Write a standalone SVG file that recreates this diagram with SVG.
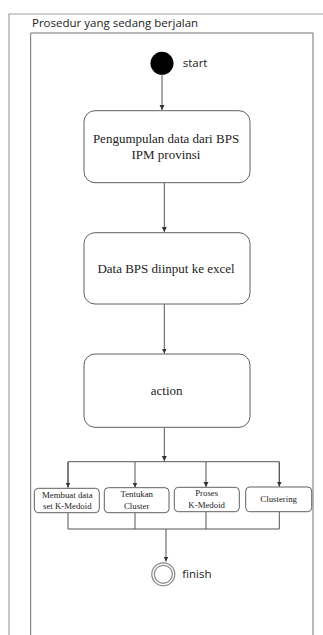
<svg xmlns="http://www.w3.org/2000/svg" width="323" height="635" viewBox="0 0 323 635">
<style>
.frame{fill:none;stroke:#a0a0a0;stroke-width:1.2}
.inner{fill:none;stroke:#707070;stroke-width:1}
.box{fill:#fff;stroke:#606060;stroke-width:1}
.conn{fill:none;stroke:#555;stroke-width:1}
.t{font-family:"Liberation Serif","Times New Roman",serif;fill:#222;text-anchor:middle}
.lbl{font-family:"Open Sans","Liberation Sans",sans-serif;fill:#222}
</style>
<defs>
<marker id="ah" markerWidth="6" markerHeight="6" refX="5" refY="3" orient="auto" markerUnits="userSpaceOnUse">
<path d="M0,0.5 L5,3 L0,5.5 Z" fill="#333"/>
</marker>
</defs>
<rect width="323" height="635" fill="#fff"/>
<g id="frame">
<path class="frame" d="M9,636 V14 H324"/>
<text class="lbl" x="32" y="26.5" font-size="11.5">Prosedur yang sedang berjalan</text>
<path class="inner" d="M30.7,636 V33 H313 V636"/>
</g>
<g id="connectors">
<path class="conn" d="M162,75 V110" marker-end="url(#ah)"/>
<path class="conn" d="M164.3,183 V232" marker-end="url(#ah)"/>
<path class="conn" d="M164.3,304 V353.5" marker-end="url(#ah)"/>
<path class="conn" d="M164.3,427.5 V461" marker-end="url(#ah)"/>
<path class="conn" d="M68,487.5 V461.7 H279.3 V486.5"/>
<path class="conn" d="M68,462 V487.5" marker-end="url(#ah)"/>
<path class="conn" d="M135,462 V487.5" marker-end="url(#ah)"/>
<path class="conn" d="M206,462 V487" marker-end="url(#ah)"/>
<path class="conn" d="M279.3,462 V486.5" marker-end="url(#ah)"/>
<path class="conn" d="M68,512.7 V529 H279.3 V511.7 M135,512.7 V529 M206,511.7 V529"/>
<path class="conn" d="M166,529 V561.5" marker-end="url(#ah)"/>
</g>
<g id="start">
<circle cx="162" cy="63.3" r="11.5" fill="#000"/>
<text class="lbl" x="182.7" y="67" font-size="11.5">start</text>
</g>
<g id="n1">
<rect class="box" x="84" y="110.7" width="166" height="72" rx="11"/>
<text class="t" x="166" y="143.3" font-size="13">Pengumpulan data dari BPS</text>
<text class="t" x="166" y="159.3" font-size="13">IPM provinsi</text>
</g>
<g id="n2">
<rect class="box" x="84" y="232.7" width="166" height="71.3" rx="11"/>
<text class="t" x="166" y="273.3" font-size="13">Data BPS diinput ke excel</text>
</g>
<g id="n3">
<rect class="box" x="84" y="354" width="166" height="73.3" rx="11"/>
<text class="t" x="166.7" y="395" font-size="13">action</text>
</g>
<g id="n4">
<rect class="box" x="34.3" y="488.3" width="65" height="24.4" rx="4"/>
<text class="t" x="67.3" y="497.5" font-size="8.8">Membuat data</text>
<text class="t" x="67.3" y="509.3" font-size="8.8">set K-Medoid</text>
</g>
<g id="n5">
<rect class="box" x="104.3" y="487.7" width="64.7" height="25" rx="4"/>
<text class="t" x="136.7" y="497.3" font-size="8.8">Tentukan</text>
<text class="t" x="136.7" y="509.3" font-size="8.8">Cluster</text>
</g>
<g id="n6">
<rect class="box" x="174.3" y="487.3" width="65" height="24.4" rx="4"/>
<text class="t" x="206.7" y="496" font-size="8.8">Proses</text>
<text class="t" x="206.7" y="507.5" font-size="8.8">K-Medoid</text>
</g>
<g id="n7">
<rect class="box" x="245.7" y="487" width="66" height="24.7" rx="4"/>
<text class="t" x="278.7" y="502" font-size="8.8">Clustering</text>
</g>
<g id="finish">
<circle cx="163.3" cy="574.3" r="11.5" fill="#fff" stroke="#888" stroke-width="1.2"/>
<circle cx="163.3" cy="574.3" r="9" fill="#fff" stroke="#888" stroke-width="1.2"/>
<text class="lbl" x="182.3" y="578" font-size="11.5">finish</text>
</g>
</svg>
